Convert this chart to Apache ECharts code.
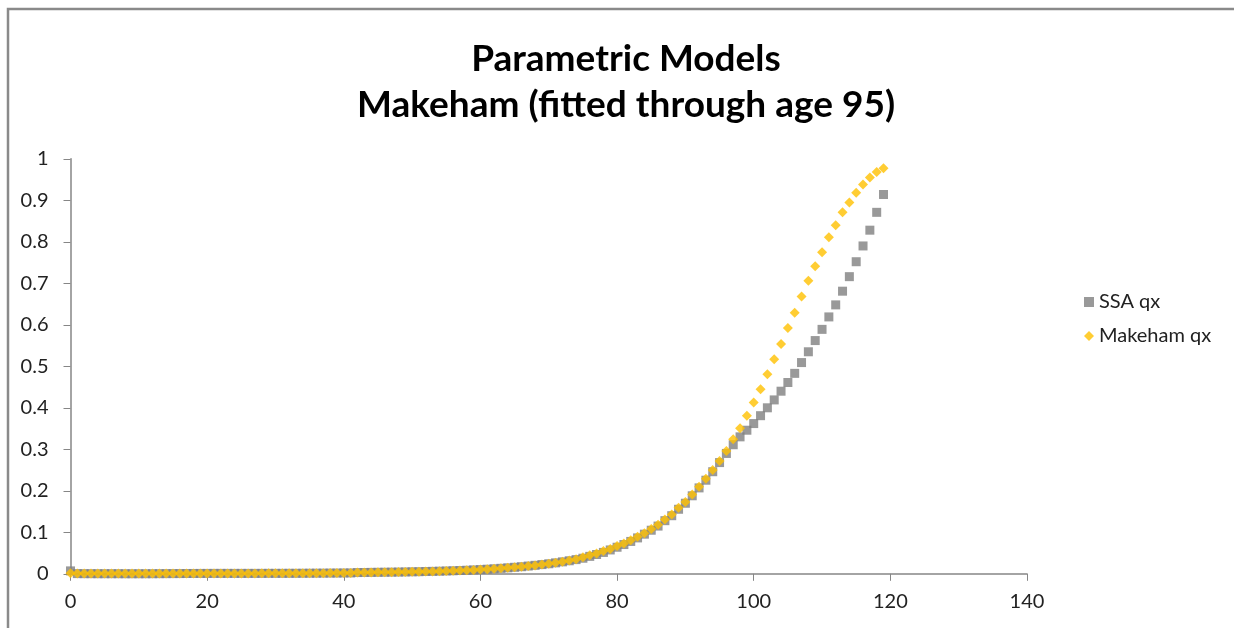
<!DOCTYPE html>
<html>
<head>
<meta charset="utf-8">
<script src="https://cdn.jsdelivr.net/npm/echarts@6/dist/echarts.min.js"></script>
<style>
	html, body { margin:0; padding:0; background:#fff; }
	#main { width:1234px; height:628px; }
</style>
</head>
<body>
<div id="main"></div>
<script>
// ages 0..119
var ages = [];
for (var a = 0; a < 120; a++) ages.push(a);

// SSA qx
var ssaQx = [
	0.0070, 0.0005, 0.0003, 0.0003, 0.0002, 0.0002, 0.0002, 0.0002, 0.0001, 0.0001,
	0.0001, 0.0001, 0.0002, 0.0003, 0.0004, 0.0005, 0.0006, 0.0007, 0.0008, 0.0009,
	0.0009, 0.0010, 0.0010, 0.0010, 0.0010, 0.0010, 0.0010, 0.0010, 0.0010, 0.0011,
	0.0011, 0.0011, 0.0012, 0.0012, 0.0013, 0.0014, 0.0015, 0.0016, 0.0017, 0.0018,
	0.0020, 0.0021, 0.0030, 0.0032, 0.0034, 0.0036, 0.0038, 0.0040, 0.0042, 0.0045,
	0.0048, 0.0051, 0.0055, 0.0059, 0.0063, 0.0068, 0.0073, 0.0079, 0.0086, 0.0094,
	0.0102, 0.0111, 0.0121, 0.0132, 0.0144, 0.0157, 0.0171, 0.0187, 0.0204, 0.0222,
	0.0242, 0.0264, 0.0288, 0.0314, 0.0342, 0.0375, 0.0420, 0.0465, 0.0515, 0.0575,
	0.0640, 0.0705, 0.0780, 0.0865, 0.0955, 0.1050, 0.1150, 0.1280, 0.1400, 0.1555,
	0.1700, 0.1880, 0.2070, 0.2255, 0.2460, 0.2680, 0.2900, 0.3110, 0.3300, 0.3460,
	0.3620, 0.3810, 0.4000, 0.4190, 0.4400, 0.4610, 0.4830, 0.5090, 0.5350, 0.5620,
	0.5890, 0.6190, 0.6480, 0.6810, 0.7160, 0.7520, 0.7900, 0.8280, 0.8710, 0.9140
];

// Makeham qx
var makehamQx = [
	0.0012, 0.0008, 0.0008, 0.0008, 0.0008, 0.0008, 0.0008, 0.0008, 0.0008, 0.0008,
	0.0008, 0.0008, 0.0008, 0.0008, 0.0008, 0.0008, 0.0009, 0.0009, 0.0009, 0.0009,
	0.0009, 0.0009, 0.0009, 0.0009, 0.0010, 0.0010, 0.0010, 0.0010, 0.0011, 0.0011,
	0.0011, 0.0012, 0.0012, 0.0013, 0.0013, 0.0014, 0.0015, 0.0016, 0.0017, 0.0018,
	0.0019, 0.0021, 0.0029, 0.0031, 0.0033, 0.0035, 0.0037, 0.0039, 0.0041, 0.0044,
	0.0047, 0.0050, 0.0054, 0.0058, 0.0062, 0.0067, 0.0072, 0.0078, 0.0085, 0.0093,
	0.0101, 0.0110, 0.0120, 0.0131, 0.0143, 0.0156, 0.0170, 0.0186, 0.0203, 0.0222,
	0.0243, 0.0266, 0.0291, 0.0318, 0.0348, 0.0400, 0.0450, 0.0490, 0.0550, 0.0600,
	0.0670, 0.0730, 0.0810, 0.0890, 0.0980, 0.1080, 0.1180, 0.1310, 0.1430, 0.1590,
	0.1730, 0.1910, 0.2100, 0.2290, 0.2500, 0.2720, 0.2960, 0.3240, 0.3510, 0.3810,
	0.4130, 0.4450, 0.4810, 0.5170, 0.5540, 0.5920, 0.6290, 0.6680, 0.7060, 0.7410,
	0.7750, 0.8110, 0.8400, 0.8710, 0.8950, 0.9180, 0.9380, 0.9550, 0.9680, 0.9770
];

var xTicks = { min: 0, max: 140, interval: 20 };
var yTicks = { min: 0, max: 1, interval: 0.1 };

var pair = function(xs, ys){
	var out = [];
	for (var i = 0, j = ys.length; i < j; i++) out.push([xs[i], ys[i]]);
	return out;
};

var FONT = 'Lato, "Open Sans", sans-serif';
var axisGray = '#868686';

var chart = echarts.init(document.getElementById('main'));
chart.setOption({
	animation: false,
	backgroundColor: '#fff',
	textStyle: { fontFamily: FONT },
	title: {
		text: 'Parametric Models\nMakeham (fitted through age 95)',
		left: 621,
		textAlign: 'center',
		top: 31,
		textStyle: { fontFamily: FONT, fontSize: 37, fontWeight: 'bold', color: '#000', lineHeight: 46 }
	},
	graphic: [{
		type: 'rect',
		shape: { x: 8, y: 9, width: 1400, height: 800 },
		style: { fill: null, stroke: '#8a8a8a', lineWidth: 2.5 },
		silent: true
	}],
	legend: {
		orient: 'vertical',
		left: 1079,
		top: 287,
		itemGap: 14,
		itemWidth: 10,
		itemHeight: 10,
		textStyle: { fontFamily: FONT, fontSize: 20, color: '#222' },
		data: [
			{ name: 'SSA qx', icon: 'rect' },
			{ name: 'Makeham qx', icon: 'diamond' }
		]
	},
	grid: { left: 70.5, right: 207, top: 158.8, bottom: 54.2 },
	xAxis: {
		type: 'value',
		min: xTicks.min, max: xTicks.max, interval: xTicks.interval,
		splitLine: { show: false },
		axisLine: { show: true, lineStyle: { color: axisGray, width: 1.5 } },
		axisTick: { show: true, length: 7, lineStyle: { color: axisGray } },
		axisLabel: { fontFamily: FONT, fontSize: 20, color: '#222', margin: 18 }
	},
	yAxis: {
		type: 'value',
		min: yTicks.min, max: yTicks.max, interval: yTicks.interval,
		splitLine: { show: false },
		axisLine: { show: true, lineStyle: { color: axisGray, width: 1.5 } },
		axisTick: { show: true, length: 7, lineStyle: { color: axisGray } },
		axisLabel: { fontFamily: FONT, fontSize: 20, color: '#222', margin: 22 }
	},
	series: [{
		name: 'SSA qx',
		type: 'scatter',
		symbol: 'rect',
		symbolSize: 9,
		itemStyle: { color: '#808080' },
		data: pair(ages, ssaQx)
	}, {
		name: 'Makeham qx',
		type: 'scatter',
		symbol: 'diamond',
		symbolSize: 10,
		itemStyle: { color: '#FFC000' },
		data: pair(ages, makehamQx)
	}]
});
</script>
</body>
</html>
